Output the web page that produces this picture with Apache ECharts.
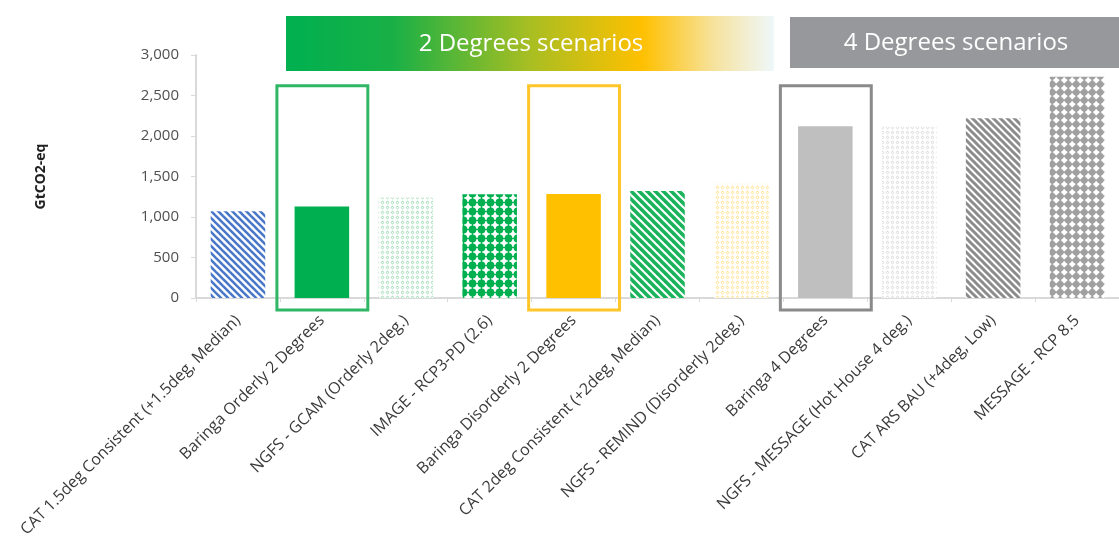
<!DOCTYPE html>
<html>
<head>
<meta charset="utf-8">
<script src="https://cdn.jsdelivr.net/npm/echarts@6/dist/echarts.min.js"></script>
<style>
  html, body { margin: 0; padding: 0; background: #ffffff; }
  #chart { width: 1119px; height: 544px; }
</style>
</head>
<body>
<div id="chart"></div>
<script>
// Cumulative emissions per scenario (GtCO2-eq)
const categories = [
  'CAT 1.5deg Consistent (+1.5deg, Median)',
  'Baringa Orderly 2 Degrees',
  'NGFS - GCAM (Orderly 2deg.)',
  'IMAGE - RCP3-PD (2.6)',
  'Baringa Disorderly 2 Degrees',
  'CAT 2deg Consistent (+2deg, Median)',
  'NGFS - REMIND (Disorderly 2deg.)',
  'Baringa 4 Degrees',
  'NGFS - MESSAGE (Hot House 4 deg.)',
  'CAT ARS BAU (+4deg, Low)',
  'MESSAGE - RCP 8.5'
];
const emissions = [1070, 1130, 1240, 1280, 1285, 1320, 1410, 2120, 2115, 2220, 2730];
const yTicks = [0, 500, 1000, 1500, 2000, 2500, 3000];

// Highlighted Baringa scenarios (outlined)
const highlighted = ['Baringa Orderly 2 Degrees', 'Baringa Disorderly 2 Degrees', 'Baringa 4 Degrees'];
const highlightTop = 2620;

// Scenario group headers
const groupTitles = ['2 Degrees scenarios', '4 Degrees scenarios'];

// ---- fills ----
function patternCanvas(w, h, draw) {
  const c = document.createElement('canvas');
  c.width = w; c.height = h;
  const ctx = c.getContext('2d');
  ctx.fillStyle = '#ffffff';
  ctx.fillRect(0, 0, w, h);
  draw(ctx, w, h);
  return { image: c, repeat: 'repeat' };
}
function stripes(color, period, width) {
  return patternCanvas(period, period, (ctx, w, h) => {
    ctx.strokeStyle = color;
    ctx.lineWidth = width;
    for (let k = -1; k <= 1; k++) {
      ctx.beginPath();
      ctx.moveTo(k * w - 2, -2);
      ctx.lineTo(k * w + w + 2, h + 2);
      ctx.stroke();
    }
  });
}
function smallCheck(color, period) {
  return patternCanvas(period, period, (ctx, w, h) => {
    ctx.fillStyle = color;
    const r = period / 2;
    ctx.beginPath();
    ctx.moveTo(r, 0.6); ctx.lineTo(w - 0.6, r); ctx.lineTo(r, h - 0.6); ctx.lineTo(0.6, r);
    ctx.closePath();
    ctx.fill();
    ctx.fillStyle = '#ffffff';
    ctx.beginPath();
    ctx.arc(r, r, r * 0.35, 0, Math.PI * 2);
    ctx.fill();
  });
}
function bigDots(color, period, radius, joint) {
  return patternCanvas(period, period, (ctx, w, h) => {
    ctx.fillStyle = color;
    ctx.beginPath();
    ctx.arc(w / 2, h / 2, radius, 0, Math.PI * 2);
    ctx.fill();
    if (joint > 0) {
      ctx.fillRect(0, h / 2 - joint / 2, w, joint);
      ctx.fillRect(w / 2 - joint / 2, 0, joint, h);
    }
  });
}

const barFills = [
  stripes('#4a78c8', 7, 2.6),
  '#00b050',
  smallCheck('#9edcb4', 5),
  bigDots('#00b050', 9, 3.9, 1.2),
  '#ffc000',
  stripes('#1bb35c', 8, 3.6),
  smallCheck('#ffe08a', 5),
  '#bfbfbf',
  smallCheck('#d9d9d9', 5),
  stripes('#8c8c8c', 7, 3),
  bigDots('#a0a0a0', 8.5, 3.3, 2)
];
const highlightColors = ['#2fb766', '#ffc62a', '#8a8a8a'];

const chart = echarts.init(document.getElementById('chart'), null, { renderer: 'canvas' });

const gridLeft = 196, gridTop = 55, gridBottom = 246, gridWidth = 932;

chart.setOption({
  animation: false,
  backgroundColor: '#ffffff',
  grid: { left: gridLeft, top: gridTop, bottom: gridBottom, width: gridWidth, containLabel: false },
  xAxis: {
    type: 'category',
    data: categories,
    axisLine: { lineStyle: { color: '#d9d9d9', width: 2 } },
    axisTick: { show: true, length: 4, lineStyle: { color: '#d9d9d9' } },
    axisLabel: {
      rotate: 45, interval: 0, margin: 20,
      color: '#3a3a3a', fontFamily: 'Open Sans', fontSize: 16
    }
  },
  yAxis: {
    type: 'value',
    min: 0, max: 3000, interval: 500,
    name: 'GtCO2-eq',
    nameLocation: 'middle',
    nameGap: 148,
    nameRotate: 90,
    nameTextStyle: { color: '#1f1f1f', fontWeight: 'bold', fontSize: 14, fontFamily: 'Open Sans' },
    splitLine: { show: false },
    axisLine: { show: true, lineStyle: { color: '#d9d9d9', width: 2 } },
    axisTick: { show: true, length: 5, lineStyle: { color: '#d9d9d9' } },
    axisLabel: {
      margin: 17, color: '#505050', fontFamily: 'Open Sans', fontSize: 15,
      formatter: v => yTicks.includes(v) ? v.toLocaleString('en-US') : ''
    }
  },
  series: [
    {
      type: 'bar',
      barWidth: '65%',
      data: emissions.map((v, i) => ({ value: v, itemStyle: { color: barFills[i] } }))
    },
    {
      type: 'custom',
      clip: false,
      z: 5,
      data: highlighted.map(name => [categories.indexOf(name), highlightTop]),
      renderItem: (params, api) => {
        const idx = api.value(0);
        const top = api.coord([idx, api.value(1)]);
        const base = api.coord([idx, 0]);
        const band = api.size([1, 0])[0];
        return {
          type: 'rect',
          shape: { x: top[0] - band / 2 - 3, y: top[1], width: band + 7, height: base[1] - top[1] + 12 },
          style: { fill: 'none', stroke: highlightColors[params.dataIndex], lineWidth: 3 }
        };
      }
    }
  ],
  graphic: [
    {
      type: 'rect',
      shape: { x: 286, y: 16, width: 488, height: 55 },
      style: {
        fill: new echarts.graphic.LinearGradient(0, 0, 1, 0, [
          { offset: 0, color: '#00b050' },
          { offset: 0.22, color: '#19b046' },
          { offset: 0.5, color: '#a8be22' },
          { offset: 0.73, color: '#ffc000' },
          { offset: 0.88, color: '#f6e3a0' },
          { offset: 1, color: '#eef8fb' }
        ])
      }
    },
    {
      type: 'text',
      x: 531, y: 44,
      style: {
        text: groupTitles[0], fill: '#ffffff', font: '24px "Open Sans"',
        textAlign: 'center', textVerticalAlign: 'middle'
      }
    },
    {
      type: 'rect',
      shape: { x: 790, y: 17, width: 340, height: 51 },
      style: { fill: '#97989b' }
    },
    {
      type: 'text',
      x: 956, y: 43,
      style: {
        text: groupTitles[1], fill: '#ffffff', font: '24px "Open Sans"',
        textAlign: 'center', textVerticalAlign: 'middle'
      }
    }
  ]
});
</script>
</body>
</html>
